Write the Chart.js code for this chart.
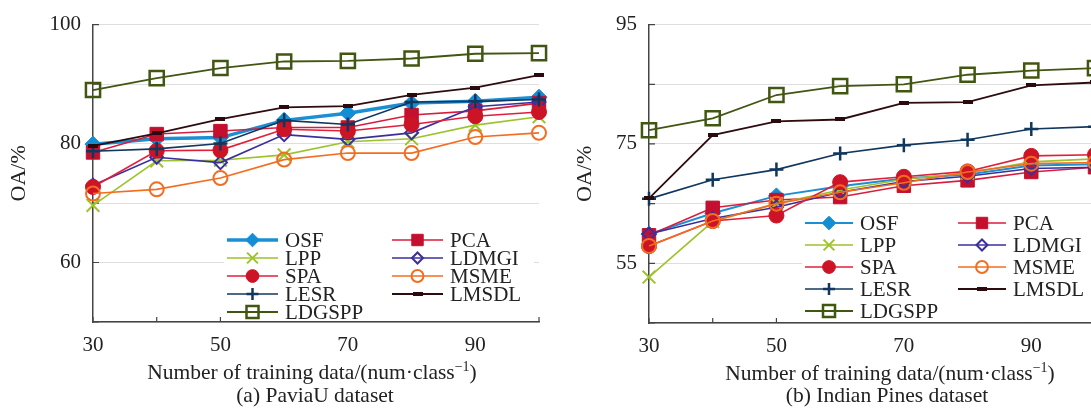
<!DOCTYPE html>
<html>
<head>
<meta charset="utf-8">
<script src="https://cdn.jsdelivr.net/npm/chart.js@4.4.1/dist/chart.umd.min.js"></script>
<style>
html, body { margin: 0; padding: 0; background: #fff; overflow: hidden; width: 1091px; height: 413px; }
.box { position: absolute; top: 0; width: 560px; height: 413px; }
.txt { position: absolute; font: 21.5px "Liberation Serif", "Times New Roman", serif; color: #222; white-space: nowrap; transform: translateX(-50%); line-height: 24px; }
</style>
</head>
<body>
<div class="box" style="left:0"><canvas id="chartA" width="560" height="413"></canvas></div>
<div class="box" style="left:560px"><canvas id="chartB" width="560" height="413"></canvas></div>
<div class="txt" style="left:312px;top:355px">Number of training data/(num·class<sup style="font-size:14px">−1</sup>)</div>
<div class="txt" style="left:315px;top:383px">(a) PaviaU dataset</div>
<div class="txt" style="left:890px;top:356px">Number of training data/(num·class<sup style="font-size:14px">−1</sup>)</div>
<div class="txt" style="left:887px;top:383px">(b) Indian Pines dataset</div>
<script>
// training samples per class
const trainSizes = [30, 40, 50, 60, 70, 80, 90, 100];
const methods = ["OSF", "PCA", "LPP", "LDMGI", "SPA", "MSME", "LESR", "LMSDL", "LDGSPP"];

// (a) PaviaU, OA %
const paviaOSF    = [79.9, 80.8, 81.0, 83.9, 85.1, 86.8, 87.1, 87.8];
const paviaPCA    = [78.5, 81.6, 82.1, 82.7, 82.7, 84.8, 85.5, 86.8];
const paviaLPP    = [69.6, 77.1, 77.2, 78.1, 80.3, 80.8, 83.1, 84.5];
const paviaLDMGI  = [73.0, 77.7, 76.8, 81.5, 80.7, 81.8, 86.2, 87.0];
const paviaSPA    = [72.7, 78.8, 78.9, 82.4, 82.1, 83.2, 84.6, 85.3];
const paviaMSME   = [71.6, 72.3, 74.2, 77.3, 78.4, 78.4, 81.1, 81.8];
const paviaLESR   = [78.7, 79.1, 80.0, 83.9, 83.2, 87.0, 87.1, 87.4];
const paviaLMSDL  = [79.6, 81.7, 84.1, 86.1, 86.3, 88.2, 89.4, 91.5];
const paviaLDGSPP = [89.0, 91.0, 92.7, 93.8, 93.9, 94.3, 95.1, 95.2];

// (b) Indian Pines, OA %
const pinesOSF    = [59.9, 63.4, 66.3, 67.9, 69.2, 69.9, 71.4, 71.6];
const pinesPCA    = [59.7, 64.3, 65.6, 66.1, 68.0, 68.9, 70.3, 71.1];
const pinesLPP    = [52.7, 62.0, 65.0, 67.3, 69.1, 70.1, 72.0, 72.5];
const pinesLDMGI  = [59.9, 62.5, 64.4, 66.9, 68.7, 69.6, 70.9, 71.1];
const pinesSPA    = [57.9, 62.1, 63.0, 68.6, 69.5, 70.4, 73.0, 73.2];
const pinesMSME   = [57.9, 62.1, 65.0, 66.9, 68.5, 70.3, 71.7, 71.9];
const pinesLESR   = [65.8, 69.0, 70.7, 73.4, 74.8, 75.7, 77.5, 77.9];
const pinesLMSDL  = [65.9, 76.5, 78.8, 79.1, 81.9, 82.0, 84.8, 85.3];
const pinesLDGSPP = [77.3, 79.3, 83.2, 84.7, 85.0, 86.6, 87.3, 87.7];

const paviaSeries = [paviaOSF, paviaPCA, paviaLPP, paviaLDMGI, paviaSPA, paviaMSME, paviaLESR, paviaLMSDL, paviaLDGSPP];
const pinesSeries = [pinesOSF, pinesPCA, pinesLPP, pinesLDMGI, pinesSPA, pinesMSME, pinesLESR, pinesLMSDL, pinesLDGSPP];

const FONT = '"Liberation Serif", "Times New Roman", serif';

// small dash marker for LMSDL
const dash = document.createElement("canvas");
dash.width = 10; dash.height = 4;
dash.getContext("2d").fillStyle = "#2a0a0c";
dash.getContext("2d").fillRect(0, 0, 10, 4);

const styles = [
  { line: "#1a8fd3", pt: "#138dd3", shape: "rectRot", r: 8,   fill: true,  bw: 1,   lw: 3.5 },
  { line: "#d81c3c", pt: "#c4102e", shape: "rect",    r: 9.5, fill: true,  bw: 1,   lw: 1.6 },
  { line: "#9dc32c", pt: "#9dc32c", shape: "crossRot",r: 9,   fill: false, bw: 2,   lw: 1.6 },
  { line: "#3b2f9e", pt: "#3b2f9e", shape: "rectRot", r: 6.5, fill: false, bw: 2,   lw: 1.6 },
  { line: "#e21f3a", pt: "#cc1426", shape: "circle",  r: 7.5, fill: true,  bw: 1,   lw: 1.6 },
  { line: "#f36d21", pt: "#f36d21", shape: "circle",  r: 7,   fill: false, bw: 2,   lw: 1.6 },
  { line: "#10375e", pt: "#10375e", shape: "cross",   r: 7,   fill: false, bw: 2.5, lw: 1.6 },
  { line: "#2d0c10", pt: "#2a0a0c", shape: dash,      r: 5,   fill: true,  bw: 0,   lw: 1.8 },
  { line: "#415611", pt: "#415611", shape: "rect",    r: 10,  fill: false, bw: 2.5, lw: 1.8 }
];

function makeDatasets(series, osfWidth) {
  return series.map((vals, i) => {
    const s = styles[i];
    return {
      label: methods[i],
      data: vals.map((v, k) => ({ x: trainSizes[k], y: v })),
      borderColor: s.line,
      borderWidth: i === 0 ? osfWidth : s.lw,
      pointStyle: s.shape,
      pointRadius: s.r,
      pointBackgroundColor: s.fill ? s.pt : "rgba(0,0,0,0)",
      pointBorderColor: s.pt,
      pointBorderWidth: s.bw,
      tension: 0,
      clip: false,
      order: series.length - i
    };
  });
}

const innerTicks = {
  id: "innerTicks",
  beforeDatasetsDraw(chart) {
    const { ctx, chartArea, scales: { x, y } } = chart;
    ctx.save();
    ctx.strokeStyle = "#444";
    ctx.lineWidth = 1.2;
    ctx.beginPath();
    x.ticks.forEach(t => {
      const px = x.getPixelForValue(t.value);
      ctx.moveTo(px, chartArea.bottom);
      ctx.lineTo(px, chartArea.bottom - 5);
    });
    y.ticks.forEach(t => {
      const py = y.getPixelForValue(t.value);
      ctx.moveTo(chartArea.left, py);
      ctx.lineTo(chartArea.left + 6, py);
    });
    ctx.stroke();
    ctx.restore();
  }
};

const legendBox = {
  id: "legendBox",
  afterDatasetsDraw(chart, args, o) {
    const ctx = chart.ctx;
    const sets = chart.data.datasets;
    const rows = Math.ceil(sets.length / 2);
    ctx.save();
    ctx.fillStyle = "#fff";
    ctx.fillRect(o.x - 3, o.y - o.rowH / 2 - 2, o.boxW, rows * o.rowH + 2);
    sets.forEach((ds, i) => {
      const x0 = o.x + (i % 2) * o.colW;
      const y = o.y + Math.floor(i / 2) * o.rowH;
      ctx.strokeStyle = ds.borderColor;
      ctx.lineWidth = ds.borderWidth;
      ctx.beginPath();
      ctx.moveTo(x0, y);
      ctx.lineTo(x0 + o.lineLen, y);
      ctx.stroke();
      ctx.fillStyle = ds.pointBackgroundColor;
      ctx.strokeStyle = ds.pointBorderColor;
      ctx.lineWidth = ds.pointBorderWidth;
      Chart.helpers.drawPoint(ctx, {
        pointStyle: ds.pointStyle, radius: ds.pointRadius * 0.85,
        rotation: 0, borderWidth: ds.pointBorderWidth
      }, x0 + o.lineLen / 2, y);
      ctx.fillStyle = "#222";
      ctx.font = "21px " + FONT;
      ctx.textBaseline = "middle";
      ctx.textAlign = "left";
      ctx.fillText(ds.label, x0 + o.lineLen + o.gap, y + 1);
    });
    ctx.restore();
  }
};

function buildChart(id, series, yMin, yMax, labelFn, cfg) {
  return new Chart(document.getElementById(id), {
    type: "line",
    data: { datasets: makeDatasets(series, cfg.osfWidth) },
    options: {
      responsive: false,
      animation: false,
      layout: { padding: { top: cfg.top, right: cfg.right, bottom: 0, left: 0 } },
      plugins: { legend: { display: false }, tooltip: { enabled: false }, legendBox: cfg.legend },
      scales: {
        x: {
          type: "linear", min: 30, max: 100,
          grid: { display: false, drawTicks: false },
          border: { display: true, color: "#444", width: 1.5 },
          ticks: {
            stepSize: 10, padding: 11, color: "#222",
            font: { family: FONT, size: 21 },
            callback: v => ([30, 50, 70, 90].includes(v) ? v : "")
          },
          afterFit: s => { s.height = 413 - cfg.bottom; }
        },
        y: {
          min: yMin, max: yMax,
          grid: { color: "#dedede", lineWidth: 1, drawTicks: false },
          border: { display: true, color: "#444", width: 1.5 },
          ticks: { stepSize: 10, padding: 12, color: "#222", font: { family: FONT, size: 21 }, callback: labelFn },
          title: { display: true, text: "OA/%", color: "#222", font: { family: FONT, size: 22 }, padding: { top: cfg.titlePad, bottom: 0 } },
          afterFit: s => { s.width = cfg.yWidth; }
        }
      }
    },
    plugins: [innerTicks, legendBox]
  });
}

buildChart("chartA", paviaSeries, 50, 100, v => (v % 20 === 0 && v >= 60 ? v : ""), {
  osfWidth: 3.5, top: 23, right: 21, bottom: 322, yWidth: 93, titlePad: 6,
  legend: { x: 227, y: 240, rowH: 18, colW: 165, lineLen: 51, gap: 7, boxW: 310 }
});

buildChart("chartB", pinesSeries, 45, 95, v => ((v - 55) % 20 === 0 ? v : ""), {
  osfWidth: 2, top: 23, right: 25, bottom: 323, yWidth: 89, titlePad: 12,
  legend: { x: 245, y: 223, rowH: 22, colW: 153, lineLen: 48, gap: 7, boxW: 300 }
});
</script>
</body>
</html>
